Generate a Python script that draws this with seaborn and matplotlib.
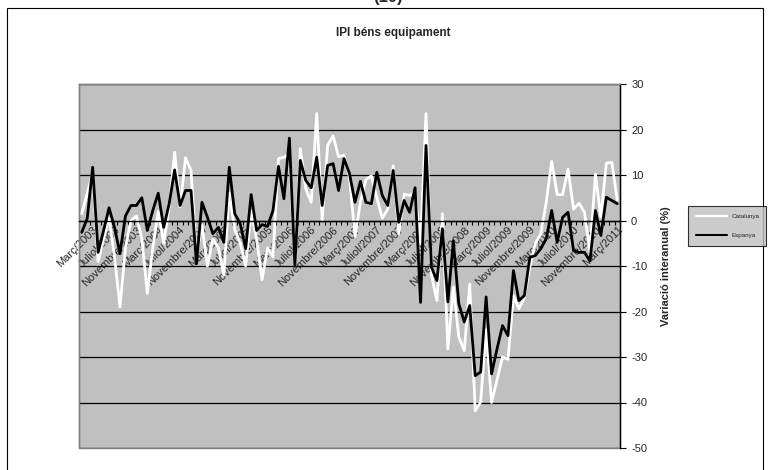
import matplotlib
matplotlib.use("Agg")
import matplotlib.pyplot as plt
import matplotlib.patches as mpatches
import pandas as pd
import seaborn as sns

# Data: IPI bens d'equipament, variacio interanual (%), mensual des de gener/2003
CATALUNYA = [
    1.5, 5.9, 10.5, -9.0, -4.0, 0.5, -8.0, -19.0, -6.0, 0.0,
    1.0, -4.0, -16.0, -6.0, 2.0, -5.0, 3.0, 15.0, 3.0, 13.8,
    11.0, -8.0, -1.0, -10.0, -4.0, -6.0, -12.0, 6.0, -2.0, -5.0,
    -10.0, 2.0, -4.0, -13.0, -6.0, -8.0, 13.6, 13.9, 14.6, -10.0,
    15.8, 7.0, 4.0, 23.5, 0.0, 16.5, 18.6, 14.0, 14.4, 9.5,
    -3.5, 4.0, 9.0, 9.8, 5.0, 0.5, 2.5, 12.0, -2.9, 5.8,
    5.5, 6.2, -5.0, 23.5, -12.0, -17.6, 1.5, -28.2, -14.6, -25.6,
    -28.6, -14.0, -41.8, -39.9, -24.0, -40.0, -35.0, -30.0, -30.5, -16.5,
    -19.4, -17.0, -10.3, -5.0, -3.0, 4.0, 13.0, 5.7, 5.7, 11.3,
    2.5, 3.8, 1.8, -7.0, 10.2, 0.7, 12.6, 12.8, 4.5,
]
ESPANYA = [
    -2.6, 0.4, 11.7, -7.0, -2.2, 2.8, -1.5, -7.3, 1.0, 3.3,
    3.3, 5.0, -2.2, 2.2, 6.0, -1.5, 3.7, 11.1, 3.3, 6.6,
    6.6, -9.5, 4.0, 0.7, -2.9, -1.5, -4.8, 11.7, 1.5, -0.7,
    -6.2, 5.7, -2.2, -0.9, -1.3, 2.2, 11.9, 4.8, 18.1, -10.0,
    13.2, 8.8, 7.2, 13.9, 3.3, 12.1, 12.5, 6.6, 13.6, 10.3,
    4.0, 8.6, 4.0, 3.7, 10.6, 5.5, 3.3, 11.0, -0.4, 4.4,
    1.8, 7.2, -18.0, 16.5, -10.3, -13.2, -1.8, -17.9, -4.5, -18.3,
    -22.3, -18.7, -34.1, -33.3, -16.8, -33.7, -28.2, -23.1, -25.3, -11.0,
    -17.6, -16.5, -8.1, -7.7, -6.2, -4.0, 2.2, -4.8, 0.7, 1.8,
    -6.6, -7.0, -7.0, -8.9, 2.2, -3.3, 5.1, 4.4, 3.7,
]

MESOS = ["Gener", "Febrer", "Març", "Abril", "Maig", "Juny", "Juliol",
         "Agost", "Setembre", "Octubre", "Novembre", "Desembre"]
ANY_INICI = 2003

# only these category labels are shown on the axis
ETIQUETES = [
    "Març/2003", "Juliol/2003", "Novembre/2003",
    "Març/2004", "Juliol/2004", "Novembre/2004",
    "Març/2005", "Juliol/2005", "Novembre/2005",
    "Març/2006", "Juliol/2006", "Novembre/2006",
    "Març/2007", "Juliol/2007", "Novembre/2007",
    "Març/2008", "Juliol/2008", "Novembre/2008",
    "Març/2009", "Juliol/2009", "Novembre/2009",
    "Març/2010", "Juliol/2010", "Novembre/2010",
    "Març/2011",
]
Y_TICKS = [-50, -40, -30, -20, -10, 0, 10, 20, 30]

# %%
n = len(ESPANYA)
categories = [f"{MESOS[k % 12]}/{ANY_INICI + k // 12}" for k in range(n)]

df = pd.DataFrame({
    "mes": list(range(n)) * 2,
    "valor": CATALUNYA + ESPANYA,
    "serie": ["Catalunya"] * n + ["Espanya"] * n,
})

sns.set_theme(style="white")
plt.rcParams["font.family"] = ["Liberation Sans", "DejaVu Sans"]
plt.rcParams["axes.unicode_minus"] = False

fig = plt.figure(figsize=(7.69, 4.70), dpi=100)
fig.patch.set_facecolor("white")
ax = fig.add_axes([79 / 769, 1 - 448 / 470, 541 / 769, 364 / 470])
ax.set_facecolor("#C0C0C0")

sns.lineplot(
    data=df, x="mes", y="valor", hue="serie",
    palette={"Catalunya": "white", "Espanya": "black"},
    linewidth=2.0, legend=False, ax=ax,
)

ax.set_xlim(-0.5, n - 0.5)
ax.set_ylim(-50, 30)
ax.set_yticks(Y_TICKS)
ax.yaxis.grid(True, color="black", linewidth=0.9)
ax.xaxis.grid(False)
ax.set_axisbelow(True)

# category axis crosses at 0, ticks between categories
ax.spines["bottom"].set_position(("data", 0))
ax.spines["bottom"].set_color("black")
ax.spines["bottom"].set_linewidth(1.0)
pos = [categories.index(e) for e in ETIQUETES]
ax.set_xticks(pos)
ax.set_xticklabels(ETIQUETES, rotation=45, ha="right", rotation_mode="anchor",
                   fontsize=8)
ax.set_xticks([k + 0.5 for k in range(n - 1)], minor=True)
ax.tick_params(axis="x", which="major", length=0, pad=3)
ax.tick_params(axis="x", which="minor", length=3, width=0.8, color="black",
               direction="out", bottom=True)
ax.set_xlabel("")

# value axis on the right
ax.yaxis.tick_right()
ax.yaxis.set_label_position("right")
ax.tick_params(axis="y", which="major", length=4, width=0.8, color="black",
               direction="out", labelsize=8, pad=4, right=True, left=False)
ax.set_ylabel("Variació interanual (%)", fontsize=8, fontweight="bold",
              labelpad=10)
for s in ["left", "top"]:
    ax.spines[s].set_color("#808080")
    ax.spines[s].set_linewidth(1.0)
ax.spines["right"].set_color("black")
ax.spines["right"].set_linewidth(1.0)
ax.add_patch(mpatches.Rectangle((0, 0), 1, 1, transform=ax.transAxes,
                                fill=False, edgecolor="#808080", lw=1.0,
                                clip_on=False, zorder=0.5))

# legend box outside, on the right
handles = [plt.Line2D([], [], color="white", lw=1.5),
           plt.Line2D([], [], color="black", lw=1.5)]
leg = fig.legend(handles, ["Catalunya", "Espanya"], loc="upper left",
                 bbox_to_anchor=(685 / 769, 1 - 243 / 470, 84 / 769, 40 / 470),
                 mode="expand", fontsize=4.5, handlelength=5, frameon=True,
                 fancybox=False, labelspacing=2.2, borderpad=1.2)
leg.get_frame().set_facecolor("#C0C0C0")
leg.get_frame().set_edgecolor("black")
leg.get_frame().set_linewidth(0.8)

# chart area border and titles
fig.patches.append(mpatches.Rectangle((7 / 769, -0.1), 756 / 769, 1.083,
                                      transform=fig.transFigure, fill=False,
                                      edgecolor="black", lw=0.8))
fig.text(388 / 769, 0.99, "(10)", ha="center", va="bottom",
         fontsize=12, fontweight="bold")
fig.text(393 / 769, 1 - 33 / 470, "IPI béns equipament", ha="center",
         va="center", fontsize=8.5, fontweight="bold")

fig.savefig("out.png", dpi=100)
